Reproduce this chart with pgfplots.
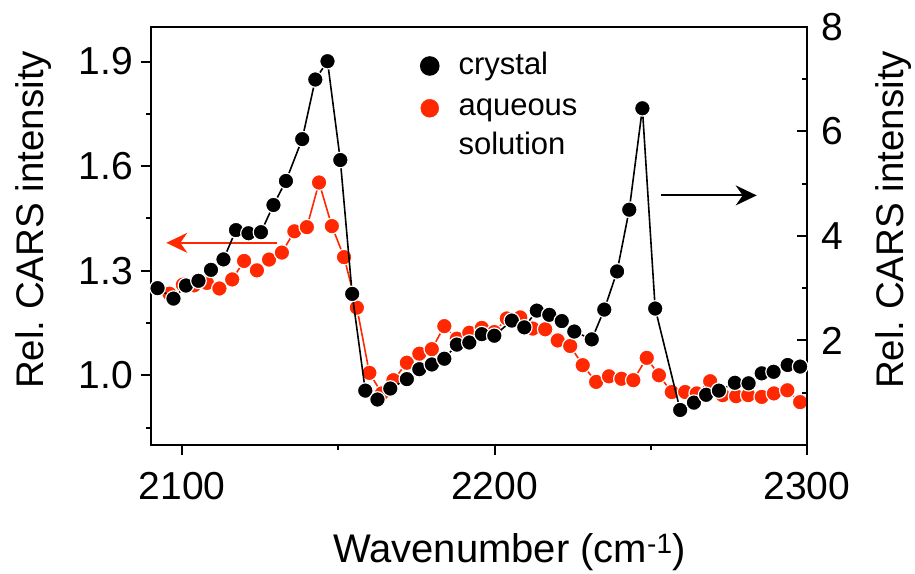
\documentclass[border=0pt]{standalone}
\usepackage{pgfplots}
\pgfplotsset{compat=1.18}
\usepackage{pgfplotstable}
\usepackage{fontspec}
\setmainfont{Liberation Sans}
\usetikzlibrary{arrows.meta}
\definecolor{redc}{RGB}{255,40,0}

\pgfplotstableread{
x y
2095.9 1.234
2100.2 1.260
2103.8 1.258
2107.9 1.265
2111.9 1.249
2116.0 1.275
2119.8 1.328
2123.9 1.301
2127.8 1.332
2131.9 1.352
2135.9 1.413
2139.9 1.425
2143.8 1.553
2147.9 1.428
2151.8 1.339
2155.9 1.194
2159.9 1.007
2163.9 0.948
2167.6 0.986
2171.9 1.036
2175.9 1.062
2179.9 1.075
2183.9 1.141
2187.9 1.105
2191.9 1.122
2195.9 1.136
2199.9 1.124
2203.9 1.163
2208.2 1.166
2212.2 1.134
2216.2 1.132
2220.2 1.100
2224.2 1.084
2228.2 1.029
2232.5 0.981
2236.6 0.997
2240.6 0.990
2244.4 0.986
2248.7 1.050
2252.6 1.000
2256.7 0.952
2261.0 0.952
2264.7 0.948
2269.0 0.983
2273.0 0.943
2277.3 0.940
2281.2 0.943
2285.5 0.938
2289.4 0.948
2293.7 0.957
2297.8 0.923
}\aqueous

\pgfplotstableread{
x y
2092.1 3.00
2097.2 2.80
2101.2 3.05
2105.2 3.14
2109.2 3.35
2113.2 3.55
2117.2 4.11
2121.2 4.05
2125.2 4.07
2129.2 4.59
2133.2 5.05
2138.4 5.85
2142.6 6.99
2146.5 7.34
2150.6 5.45
2154.4 2.89
2158.6 1.04
2162.5 0.87
2166.6 1.08
2171.9 1.26
2175.9 1.45
2179.9 1.54
2183.9 1.65
2187.9 1.92
2191.9 1.96
2195.9 2.12
2199.9 2.09
2205.5 2.38
2209.5 2.25
2213.5 2.57
2217.5 2.49
2221.5 2.37
2225.5 2.17
2231.1 2.02
2235.1 2.59
2239.2 3.32
2243.1 4.50
2247.3 6.44
2251.4 2.61
2259.4 0.67
2263.8 0.81
2267.7 0.96
2271.8 1.04
2276.9 1.19
2281.3 1.18
2285.5 1.37
2289.3 1.40
2293.8 1.53
2297.8 1.50
}\crystal

\pgfplotsset{
  common/.style={
    scale only axis, width=656pt, height=418.3pt,
    xmin=2090, xmax=2300,
    axis line style={line width=2pt},
    every tick/.style={line width=2pt, black},
    major tick length=10pt, minor tick length=5pt,
    tick label style={font=\fontsize{39}{47}\selectfont, inner sep=0pt},
    /pgf/number format/assume math mode=true,
  }
}

\begin{document}
\begin{tikzpicture}
\begin{axis}[common,
  ymin=0.8, ymax=2.0,
  xtick={2100,2200,2300}, xticklabels={2100,2200,2300},
  minor xtick={2150,2250},
  ytick={1.0,1.3,1.6,1.9}, yticklabels={1.0,1.3,1.6,1.9},
  minor ytick={0.85,1.15,1.45,1.75},
  xtick pos=bottom, ytick pos=left, tick align=outside,
  xticklabel style={anchor=north, yshift=-17pt},
  yticklabel style={anchor=east, xshift=-8pt},
  xlabel={Wavenumber (cm\textsuperscript{-1})},
  xlabel style={font=\fontsize{40}{48}\selectfont, at={(axis description cs:0.5465,-0.282)}, anchor=base, inner sep=0pt},
  ylabel={Rel.\ CARS intensity},
  ylabel style={font=\fontsize{38.5}{46}\selectfont, at={(axis description cs:-0.2073,0.538)}, anchor=north, inner sep=0pt},
]
\addplot[redc, line width=1.6pt, mark=*, mark size=7.8pt,
  mark options={fill=redc, draw=white, line width=1.2pt, solid}] table {\aqueous};
\draw[redc, line width=2pt, -{Stealth[length=21pt, width=20pt, inset=7pt]}]
  (axis cs:2130.3,1.38) -- (axis cs:2094.9,1.38);
\draw[black, line width=2pt, -{Stealth[length=21pt, width=20pt, inset=7pt]}]
  (axis cs:2253.3,1.516) -- (axis cs:2283.9,1.516);
\end{axis}
\begin{axis}[common,
  ymin=0, ymax=8,
  axis x line=none, axis y line*=right,
  ytick={2,4,6,8}, yticklabels={2,4,6,8},
  minor ytick={1,3,5,7},
  tick align=inside,
  yticklabel style={anchor=west, xshift=14pt},
  ylabel={Rel.\ CARS intensity},
  ylabel style={font=\fontsize{38.5}{46}\selectfont, at={(axis description cs:1.1037,0.538)}, anchor=north, inner sep=0pt},
  legend style={at={(axis description cs:0.410,0.9395)}, anchor=north west,
    draw=none, fill=none, inner sep=0pt, outer sep=0pt,
    font=\fontsize{31}{39}\selectfont,
    cells={anchor=base west}, row sep=12pt, column sep=19pt,
    nodes={inner sep=0pt}},
]
\addplot[black, line width=1.6pt, mark=*, mark size=7.8pt,
  mark options={fill=black, draw=white, line width=1.2pt, solid},
  legend image code/.code={\fill[black] (9pt,8.5pt) circle (9pt);}] table {\crystal};
\addlegendentry{crystal}
\addlegendimage{legend image code/.code={\fill[redc] (9pt,7pt) circle (9pt);}}
\addlegendentry{\begin{tabular}[t]{@{}l@{}}aqueous\\solution\end{tabular}}
\end{axis}
\pgfresetboundingbox
\path[use as bounding box] (-151pt,-128pt) rectangle (764pt,445pt);
\end{tikzpicture}
\end{document}
